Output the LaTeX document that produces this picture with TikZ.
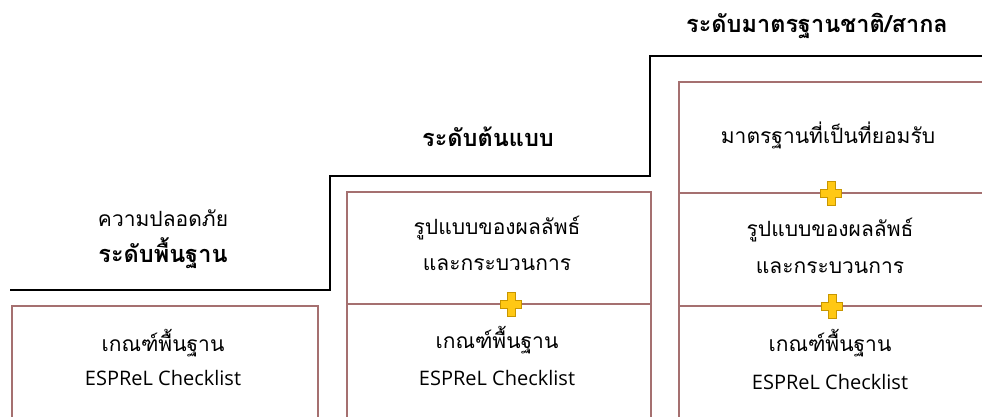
\documentclass[tikz,border=0pt]{standalone}
\usepackage{fontspec}
\setmainfont{Open Sans}
\newfontfamily\thaifont[Script=Thai]{Loma}
\definecolor{boxline}{RGB}{165,112,112}
\definecolor{plusfill}{RGB}{255,200,20}
\definecolor{plusline}{RGB}{200,150,0}
\begin{document}
\begin{tikzpicture}[x=1pt,y=-1pt,
  stair/.style={draw=black,line width=1.8pt,line join=miter},
  levelbox/.style={draw=boxline,line width=1.5pt,rectangle,anchor=north west,inner sep=0pt},
  divider/.style={draw=boxline,line width=1.5pt},
  thtext/.style={font=\thaifont\fontsize{21}{24}\selectfont,inner sep=0pt,anchor=center},
  thbold/.style={font=\thaifont\bfseries\fontsize{23.5}{26}\selectfont,inner sep=0pt,anchor=center},
  entext/.style={font=\fontsize{20}{24}\selectfont,inner sep=0pt,anchor=center},
  plussign/.pic={\path[fill=plusfill,draw=plusline,line width=0.8pt]
    (-4,-12) -- (4,-12) -- (4,-4) -- (10.5,-4) -- (10.5,4) -- (4,4) -- (4,12) -- (-4,12) -- (-4,4) -- (-10.5,4) -- (-10.5,-4) -- (-4,-4) -- cycle;}
]
\clip (0,0) rectangle (982,416);
\fill[white] (0,0) rectangle (982,416);
% staircase
\coordinate (s0) at (10,290);
\coordinate (s1) at (330,290);
\coordinate (s2) at (330,176);
\coordinate (s3) at (650,176);
\coordinate (s4) at (650,56);
\coordinate (s5) at (990,56);
\draw[stair] (s0) -- (s1) -- (s2) -- (s3) -- (s4) -- (s5);
% boxes
\node[levelbox,minimum width=306pt,minimum height=150pt] (box1) at (11,305) {};
\node[levelbox,minimum width=304pt,minimum height=260pt] (box2) at (346,191) {};
\node[levelbox,minimum width=320pt,minimum height=360pt] (box3) at (678,81) {};
\coordinate (d2l) at (346,304);
\coordinate (d2r) at (650,304);
\coordinate (d3al) at (678,193);
\coordinate (d3ar) at (1000,193);
\coordinate (d3bl) at (678,306);
\coordinate (d3br) at (1000,306);
\draw[divider] (d2l) -- (d2r);
\draw[divider] (d3al) -- (d3ar);
\draw[divider] (d3bl) -- (d3br);
% plus signs
\pic at (511,304) {plussign};
\pic at (831,193) {plussign};
\pic at (832,306) {plussign};
% headings
\node[thtext] (h1a) at (163,218) {ความปลอดภัย};
\node[thbold] (h1b) at (163,253) {ระดับพื้นฐาน};
\node[thbold] (h2) at (488,137) {ระดับต้นแบบ};
\node[thbold] (h3) at (817,26) {ระดับมาตรฐานชาติ/สากล};
% box 1
\node[thtext] (b1a) at (163,343) {เกณฑ์พื้นฐาน};
\node[entext] (b1b) at (163,378) {ESPReL Checklist};
% box 2
\node[thtext] (b2a) at (497,228) {รูปแบบของผลลัพธ์};
\node[thtext] (b2b) at (497,265) {และกระบวนการ};
\node[thtext] (b2c) at (497,340) {เกณฑ์พื้นฐาน};
\node[entext] (b2d) at (497,378) {ESPReL Checklist};
% box 3
\node[thtext] (b3a) at (828,135) {มาตรฐานที่เป็นที่ยอมรับ};
\node[thtext] (b3b) at (830,230) {รูปแบบของผลลัพธ์};
\node[thtext] (b3c) at (830,268) {และกระบวนการ};
\node[thtext] (b3d) at (830,343) {เกณฑ์พื้นฐาน};
\node[entext] (b3e) at (830,382) {ESPReL Checklist};
\end{tikzpicture}
\end{document}
